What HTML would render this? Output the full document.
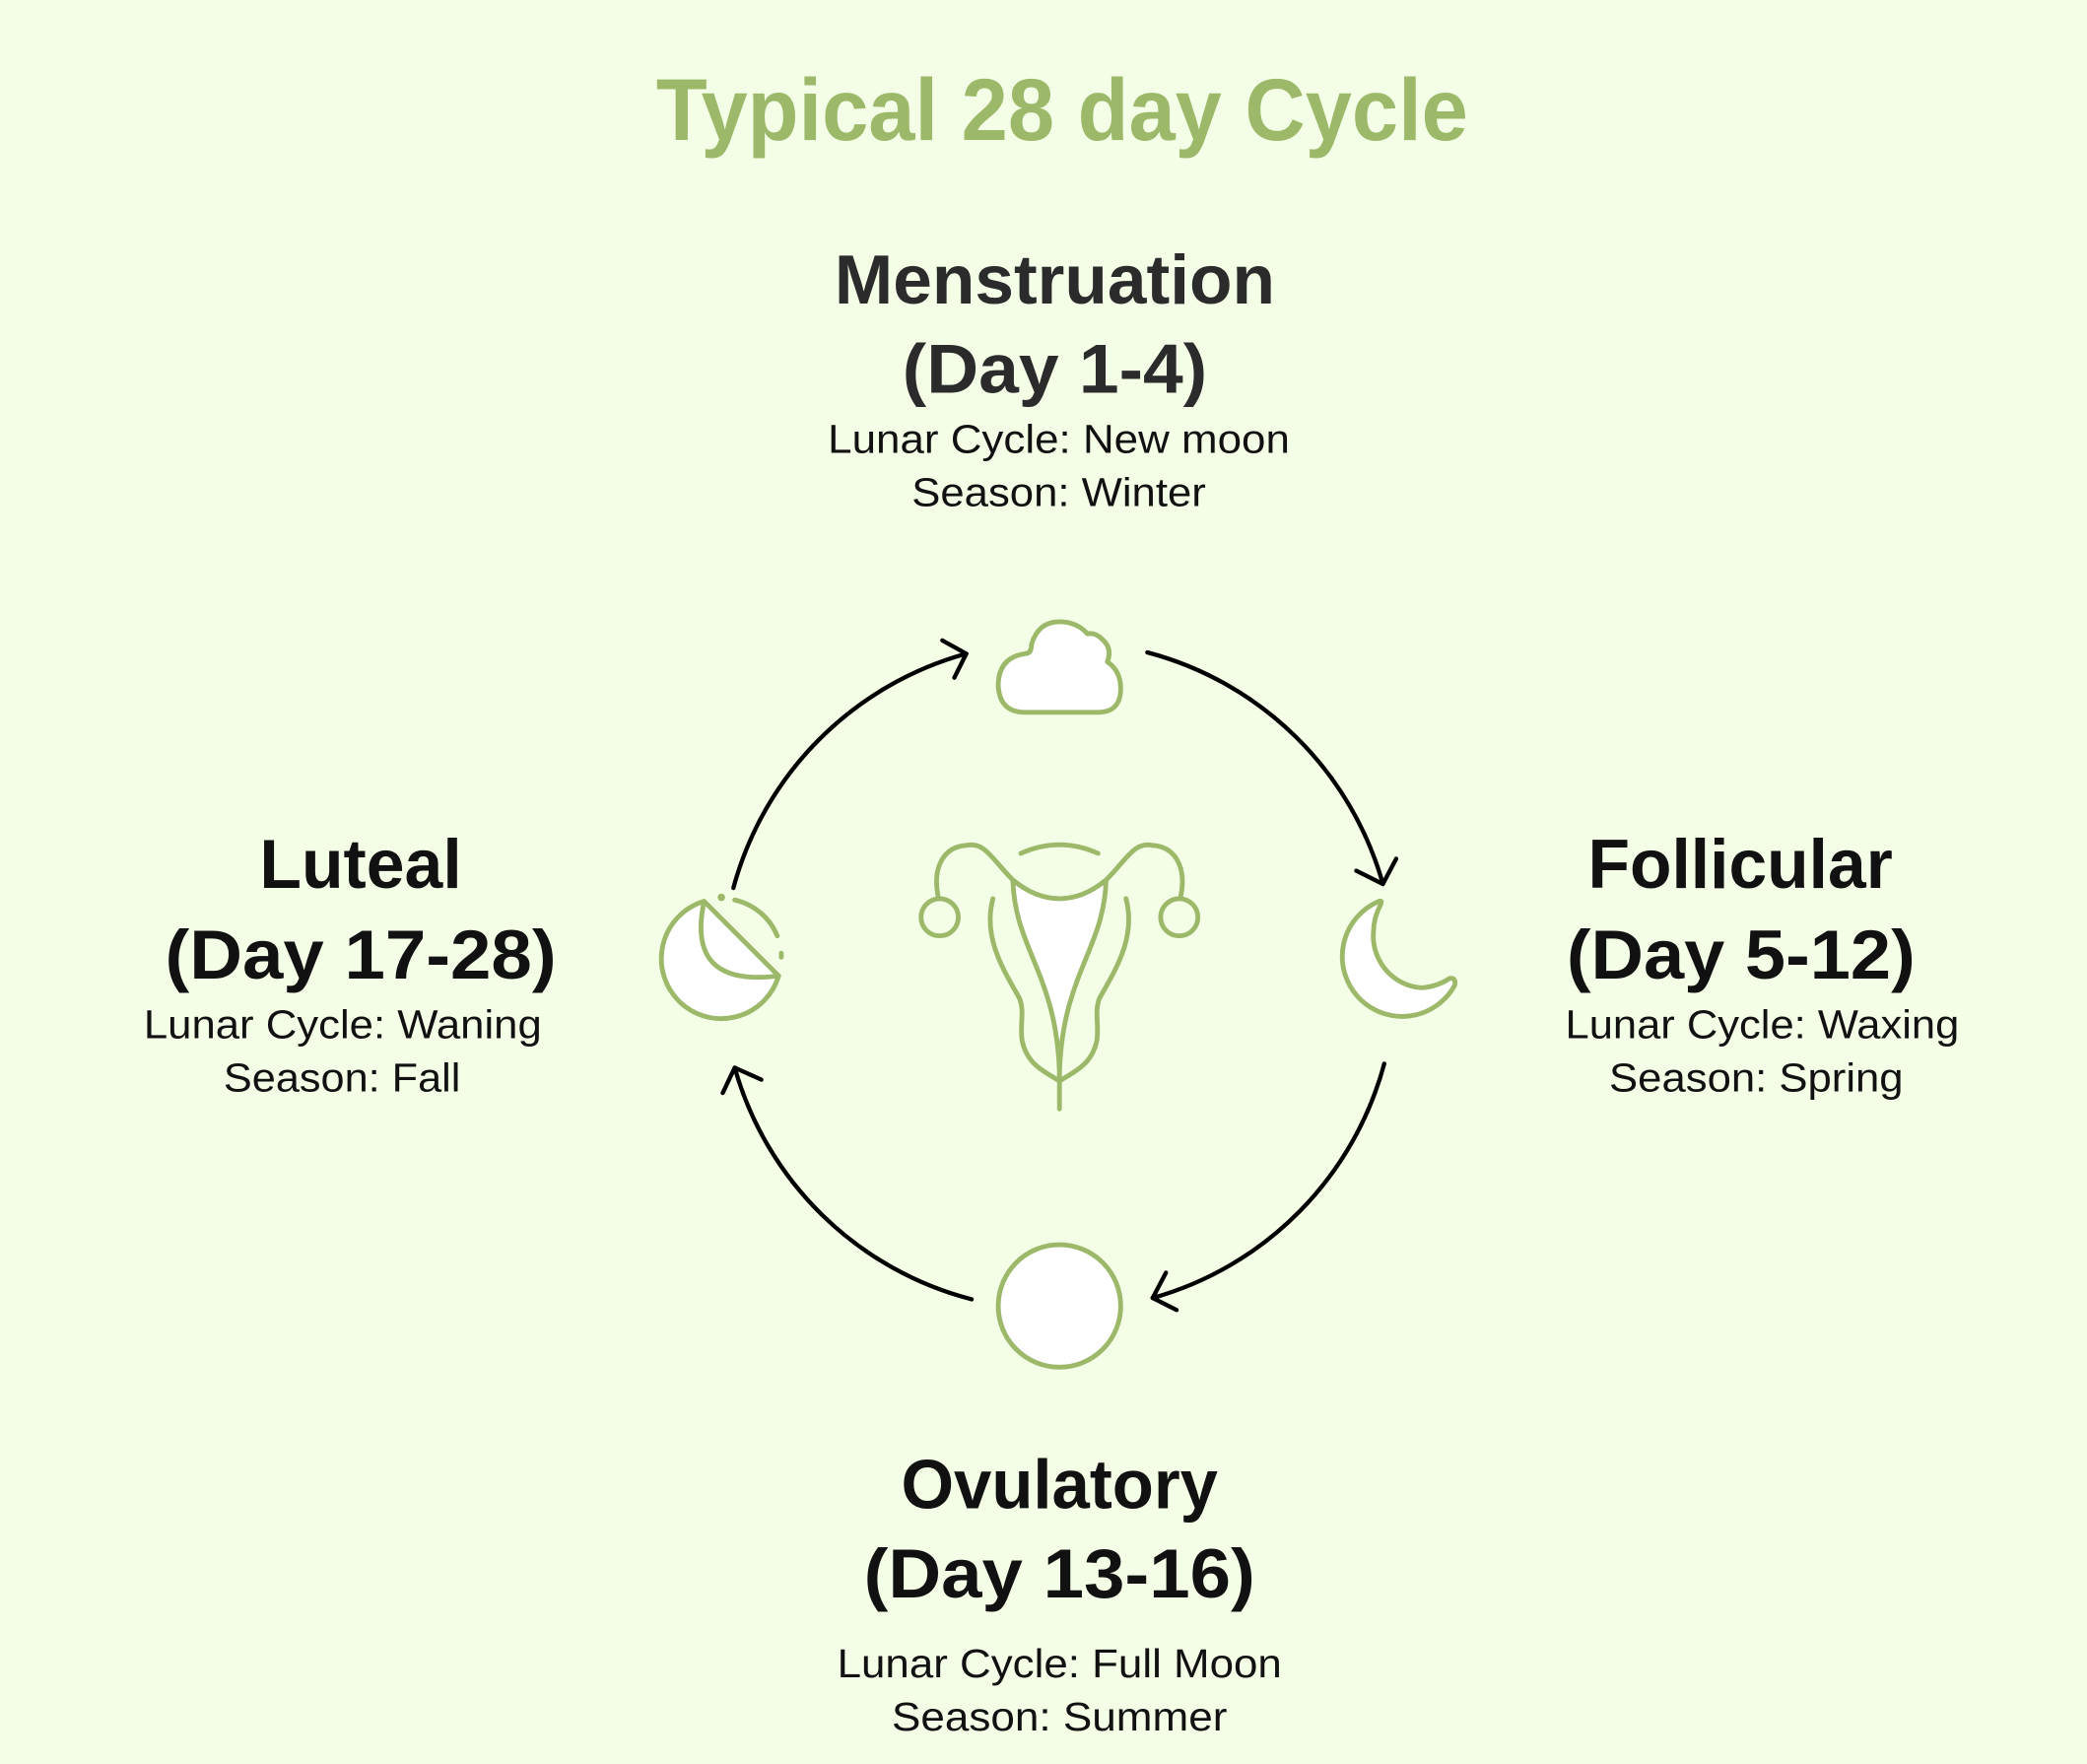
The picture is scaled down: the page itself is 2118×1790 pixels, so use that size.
<!DOCTYPE html>
<html><head><meta charset="utf-8"><style>
html,body{margin:0;padding:0;background:#f4fee6;}
svg{display:block}
text{font-family:"Liberation Sans",sans-serif;}
.h{font-weight:bold;font-size:52px;}
.s{font-size:30px;fill:#111;}
</style></head><body>
<svg width="2118" height="1790" viewBox="0 0 1568 1325" xmlns="http://www.w3.org/2000/svg">
<rect width="1568" height="1325" fill="#f4fee6"/>
<text x="493" y="105" font-size="66" font-weight="bold" fill="#9cb96a" textLength="610" lengthAdjust="spacingAndGlyphs">Typical 28 day Cycle</text>

<g class="h" fill="#2b2b2b">
<text class="h" x="627" y="228" textLength="331" lengthAdjust="spacingAndGlyphs">Menstruation</text>
<text class="h" x="678" y="295" textLength="229" lengthAdjust="spacingAndGlyphs">(Day 1-4)</text>
</g>
<text class="s" x="622" y="340" textLength="347" lengthAdjust="spacingAndGlyphs">Lunar Cycle: New moon</text>
<text class="s" x="685" y="380" textLength="221" lengthAdjust="spacingAndGlyphs">Season: Winter</text>

<g fill="#111">
<text class="h" x="195" y="667" textLength="152" lengthAdjust="spacingAndGlyphs">Luteal</text>
<text class="h" x="124" y="735" textLength="294" lengthAdjust="spacingAndGlyphs">(Day 17-28)</text>
<text class="h" x="1193" y="667" textLength="229" lengthAdjust="spacingAndGlyphs">Follicular</text>
<text class="h" x="1177" y="735" textLength="262" lengthAdjust="spacingAndGlyphs">(Day 5-12)</text>
<text class="h" x="677" y="1133" textLength="238" lengthAdjust="spacingAndGlyphs">Ovulatory</text>
<text class="h" x="649" y="1200" textLength="294" lengthAdjust="spacingAndGlyphs">(Day 13-16)</text>
</g>
<text class="s" x="108" y="780" textLength="299" lengthAdjust="spacingAndGlyphs">Lunar Cycle: Waning</text>
<text class="s" x="168" y="820" textLength="178" lengthAdjust="spacingAndGlyphs">Season: Fall</text>
<text class="s" x="1176" y="780" textLength="296" lengthAdjust="spacingAndGlyphs">Lunar Cycle: Waxing</text>
<text class="s" x="1209" y="820" textLength="221" lengthAdjust="spacingAndGlyphs">Season: Spring</text>
<text class="s" x="629" y="1260" textLength="334" lengthAdjust="spacingAndGlyphs">Lunar Cycle: Full Moon</text>
<text class="s" x="670" y="1300" textLength="252" lengthAdjust="spacingAndGlyphs">Season: Summer</text>

<!-- arrows -->
<g fill="none" stroke="#000" stroke-width="3.2" stroke-linecap="round" stroke-linejoin="round">
<path d="M551 667 A250 250 0 0 1 726 491"/>
<polyline points="708,481 726,491 717,509"/>
<path d="M862 490 A250 250 0 0 1 1039 664"/>
<polyline points="1019,654 1039,664 1049,645"/>
<path d="M1040 799 A250 250 0 0 1 866 975"/>
<polyline points="876,956 866,975 884,984"/>
<path d="M730 976 A250 250 0 0 1 552 802"/>
<polyline points="543,821 552,802 572,811"/>
</g>

<g stroke="#9cb96a" stroke-width="3.6" stroke-linecap="round" stroke-linejoin="round">
<!-- cloud -->
<path fill="#fff" d="M770 535 L825 535 Q842 535 842 517 Q842 504 832 497 Q836 487 828 480 Q823 475 817 476 Q809 467 796 467 Q780 467 775 484 Q775 491 770 491 Q750 494 750 515 Q751 535 770 535 Z"/>
<!-- full moon -->
<circle cx="796" cy="981" r="46" fill="#fff"/>
<!-- crescent -->
<path fill="#fff" d="M1037 680 Q1039 676 1036 677 A45 45 0 1 0 1093 740 Q1094 734 1089 735 Q1080 741 1068 742 A39 39 0 0 1 1032 699 Q1032 690 1037 680 Z"/>
<!-- waning -->
<path fill="#fff" d="M529 677 A45 45 0 1 0 585 733 Z"/>
<path fill="none" d="M529 677 Q515 742 585 733"/>
<path fill="none" d="M552 676 A45 45 0 0 1 584 703"/>
<circle cx="542" cy="674" r="1" fill="#9cb96a"/>
<path fill="none" d="M587 716 L587 719"/>
<!-- uterus -->
<g fill="none">
<path d="M767 641 Q796 628 825 641"/>
<path d="M761 661 Q778 675 796 675 Q814 675 831 661"/>
<path fill="#fff" d="M761 661 Q778 675 796 675 Q814 675 831 661 C830 700 812 720 802 760 C797 780 796 800 796 808 C796 800 795 780 790 760 C780 720 762 700 761 661 Z"/>
<path d="M761 661 C745 645 740 632 726 635 C710 636 700 650 705 674"/>
<path d="M831 661 C847 645 852 632 866 635 C882 636 892 650 887 674"/>
<circle cx="706" cy="689" r="14"/>
<circle cx="886" cy="689" r="14"/>
<path d="M746 675 C738 705 755 730 766 750 C770 760 766 770 768 782 C772 800 785 805 796 812"/>
<path d="M846 675 C854 705 837 730 826 750 C822 760 826 770 824 782 C820 800 807 805 796 812"/>
<path d="M796 808 L796 833"/>
</g>
</g>
</svg>
</body></html>
